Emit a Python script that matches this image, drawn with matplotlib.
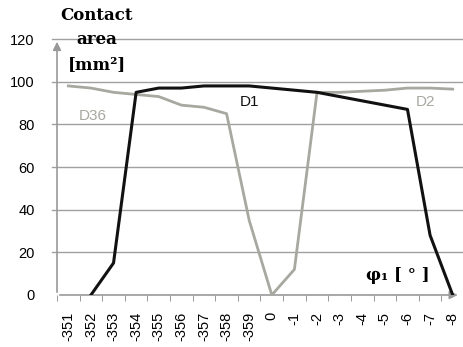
import numpy as np
import matplotlib
matplotlib.use('Agg')
import matplotlib.pyplot as plt

# categories (phi_1 angle)
angles = ['-351', '-352', '-353', '-354', '-355', '-356', '-357', '-358', '-359',
          '0', '-1', '-2', '-3', '-4', '-5', '-6', '-7', '-8']
# contact area series
d1 = [None, 0, 15, 95, 97, 97, 98, 98, 98, 97, 96, 95, 93, 91, 89, 87, 28, 0]
d36 = [98, 97, 95, 94, 93, 89, 88, 85, 35, 0, 12, 95, 95, 95.5, 96, 97, 97, 96.5]
yticks = [0, 20, 40, 60, 80, 100, 120]

fig = plt.figure(figsize=(4.64, 3.47), dpi=100)
ax = fig.add_axes([57/464, 1 - 295/347, 407/464, (295 - 39)/347])

x = np.arange(len(angles))
d1_arr = np.array([np.nan if v is None else v for v in d1], dtype=float)
ax.plot(x, d36, color='#a7a8a0', lw=2.0, zorder=3)
ax.plot(x, d1_arr, color='#111111', lw=2.2, zorder=4)

ax.set_xlim(-0.5, len(angles) - 0.5)
ax.set_ylim(0, 120)
ax.set_yticks(yticks)
ax.set_yticklabels([str(v) for v in yticks], fontsize=10.5, family='Liberation Sans')
ax.set_xticks(x)
ax.set_xticklabels(angles, rotation=90, fontsize=10.5, family='Liberation Sans')
ax.set_xticks(np.arange(len(angles) + 1) - 0.5, minor=True)
ax.tick_params(axis='x', which='major', length=0, pad=12)
ax.tick_params(axis='x', which='minor', length=4, color='#888888', direction='out')
ax.tick_params(axis='y', length=0, pad=16)

for v in yticks[1:]:
    ax.axhline(v, color='#a0a0a0', lw=1.0, zorder=1, xmin=-0.012, clip_on=False)

for s in ax.spines.values():
    s.set_visible(False)

# axes with arrows
ax.annotate('', xy=(-0.5, 120), xytext=(-0.5, 0),
            arrowprops=dict(arrowstyle='-|>', color='#999999', lw=1.2, mutation_scale=12),
            annotation_clip=False, zorder=2)
ax.annotate('', xy=(17.35, 0), xytext=(-0.5, 0),
            arrowprops=dict(arrowstyle='-|>', color='#999999', lw=1.2, mutation_scale=12),
            annotation_clip=False, zorder=2)

# series labels
ax.text(1.1, 84, 'D36', color='#a7a8a0', fontsize=11, ha='center', va='center',
        family='Liberation Sans')
ax.text(8.0, 90.5, 'D1', color='#111111', fontsize=11, ha='center', va='center',
        family='Liberation Sans')
ax.text(15.8, 90.5, 'D2', color='#a7a8a0', fontsize=11, ha='center', va='center',
        family='Liberation Sans')

# axis titles
tf = dict(fontsize=12, fontweight='bold', family='DejaVu Serif', ha='center', va='center')
fig.text(97/464, 1 - 16/347, 'Contact', **tf)
fig.text(97/464, 1 - 40/347, 'area', **tf)
fig.text(97/464, 1 - 65/347, '[mm²]', **tf)
fig.text(398/464, 1 - 276/347, 'φ₁ [ ° ]', **tf)

fig.savefig('out.png', dpi=100)
